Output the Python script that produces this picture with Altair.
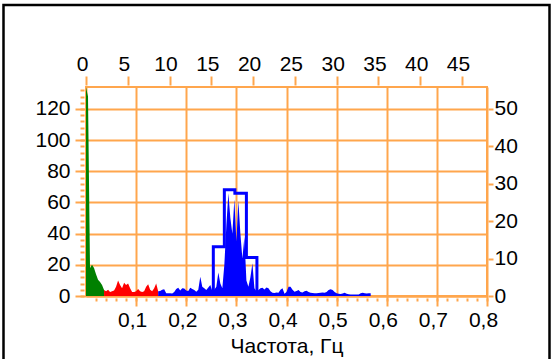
import altair as alt
import pandas as pd

# ---------------- data ----------------
STEP = 0.004  # spectral resolution, Hz

green_start = 0.0
green_vals = [134, 128, 18, 20, 18, 14, 10.5, 9, 7, 3.9]

red_start = 0.036
red_vals = [3.9, 3, 4, 2.5, 3, 3.5, 6, 10, 7, 5, 8.5, 7, 8, 5, 2.5, 2.5, 3, 4.5,
            3, 2.5, 3, 6, 7.5, 4, 3, 5, 8, 3]

blue_start = 0.144
blue_vals = [3, 3.2, 4, 4.3, 1.8, 1.7, 1.8, 1.6, 2.5, 4.5, 5.3, 3.5, 4.9, 4.8, 3.5,
             3.2, 5.3, 4.5, 3.8, 2.8, 4, 12.4, 6, 4.9, 3.9, 5.5, 7, 3.2, 4, 6, 15,
             8, 5, 20, 45, 66, 50, 40, 62, 35, 61, 40, 24, 38, 10, 6, 12, 21, 5, 3,
             3.9, 5, 5.3, 4.2, 5.5, 5, 3, 2.1, 2, 2.3, 2.1, 4, 5, 1.5, 2.5, 6, 6, 4,
             2.8, 3.2, 3.9, 2.5, 2.2, 3, 3.4, 2.5, 2.1, 2, 1.7, 1.8, 2, 2.1, 2.2,
             2.1, 2.6, 3.8, 4.3, 3.9, 2.5, 1.7, 1.4, 1.3, 1.6, 2.1, 1.5, 1.1, 0.9,
             0.9, 0.9, 0.9, 1, 1.8, 2.1, 1.8, 1.6, 1.7, 1.7]

# histogram (right axis): bin edges and heights
hist_edges = [0.254, 0.276, 0.297, 0.320, 0.341]
hist_heights = [13.2, 28.4, 27.5, 10.3]

bottom_ticks = [0.1, 0.2, 0.3, 0.4, 0.5, 0.6, 0.7, 0.8]
bottom_minor = [round(0.02 * i, 2) for i in range(1, 41)]
top_ticks_per_min = [0, 5, 10, 15, 20, 25, 30, 35, 40, 45]
left_ticks = [0, 20, 40, 60, 80, 100, 120]
left_minor = list(range(0, 133, 4))
right_ticks = [0, 10, 20, 30, 40, 50]

X_MAX = 0.8
Y_LEFT_MAX = 134.1
Y_RIGHT_MAX = 55.875

ORANGE = "#FFA64D"
FONT = "Liberation Sans"
FS = 21


def spectrum(start, vals):
    return pd.DataFrame({"f": [round(start + i * STEP, 4) for i in range(len(vals))],
                         "v": vals})


green_df = spectrum(green_start, green_vals)
red_df = spectrum(red_start, red_vals)
blue_df = spectrum(blue_start, blue_vals)

hist_x = [hist_edges[0]] + hist_edges
hist_y = [0] + hist_heights + [0]
hist_df = pd.DataFrame({"f": hist_x, "v": hist_y, "o": list(range(len(hist_x)))})

xs = alt.Scale(domain=[0, X_MAX], nice=False, zero=False)
ys = alt.Scale(domain=[0, Y_LEFT_MAX], nice=False, zero=False)
ys_r = alt.Scale(domain=[0, Y_RIGHT_MAX], nice=False, zero=False)

axis_common = dict(labelFont=FONT, labelFontSize=FS, labelColor="black",
                   labelFlush=False, labelOverlap=False,
                   tickColor=ORANGE, tickWidth=2, domainColor=ORANGE, domainWidth=2,
                   gridColor=ORANGE, gridWidth=2, gridOpacity=1)

x_main = alt.Axis(orient="bottom", values=bottom_ticks, grid=True, tickSize=10,
                  labelPadding=3, labelOffset=-4, domain=True,
                  labelExpr="replace(format(datum.value, '.1f'), '.', ',')",
                  title="Частота, Гц", titleFont=FONT, titleFontSize=FS,
                  titleFontWeight="normal", titleColor="black", titlePadding=5,
                  **axis_common)
y_main = alt.Axis(orient="left", values=left_ticks, grid=True, tickSize=11,
                  labelPadding=5, domain=True, title=None, **axis_common)

x_minor = alt.Axis(orient="bottom", values=bottom_minor, grid=False, tickSize=3,
                   offset=2, labels=False, domain=False, title=None, tickColor=ORANGE,
                   tickWidth=2)
y_minor = alt.Axis(orient="left", values=left_minor, grid=False, tickSize=4,
                   offset=2, labels=False, domain=False, title=None, tickColor=ORANGE,
                   tickWidth=2)

x_top = alt.Axis(orient="top", values=[m / 60 for m in top_ticks_per_min], grid=False,
                 tickSize=9, offset=2, labelPadding=2, labelOffset=-4, domain=False,
                 labelExpr="format(datum.value * 60, '.0f')", title=None,
                 **axis_common)
y_right = alt.Axis(orient="right", values=right_ticks, grid=False, tickSize=5,
                   offset=1, labelPadding=1, domain=False, title=None, **axis_common)

green = alt.Chart(green_df).mark_area(color="#008000").encode(
    x=alt.X("f:Q", scale=xs, axis=x_main),
    y=alt.Y("v:Q", scale=ys, axis=y_main),
)
red = alt.Chart(red_df).mark_area(color="#FF0000").encode(
    x=alt.X("f:Q", scale=xs, axis=x_minor),
    y=alt.Y("v:Q", scale=ys, axis=y_minor),
)
blue = alt.Chart(blue_df).mark_area(color="#0000FF").encode(
    x=alt.X("f:Q", scale=xs, axis=x_top),
    y=alt.Y("v:Q", scale=ys, axis=None),
)
hist = alt.Chart(hist_df).mark_line(color="#0000FF", strokeWidth=3,
                                    interpolate="step-after").encode(
    x=alt.X("f:Q", scale=xs, axis=None),
    y=alt.Y("v:Q", scale=ys_r, axis=y_right),
    order="o:Q",
)
frame = alt.Chart(pd.DataFrame({"a": [0]})).mark_rect(
    filled=False, stroke="black", strokeWidth=2.5).encode(
    x=alt.value(-82.5), x2=alt.value(463.5), y=alt.value(-82), y2=alt.value(300),
)

chart = alt.layer(green, red, blue, hist, frame).resolve_scale(
    x="independent", y="independent"
).resolve_axis(x="independent", y="independent").properties(
    width=401, height=209,
    padding={"left": 86, "top": 87, "right": 67, "bottom": 63},
    autosize=alt.AutoSizeParams(type="none"),
    background="white",
).configure_view(stroke=ORANGE, strokeWidth=2)

chart.save("out.html", embed_options={"renderer": "svg", "actions": False})
